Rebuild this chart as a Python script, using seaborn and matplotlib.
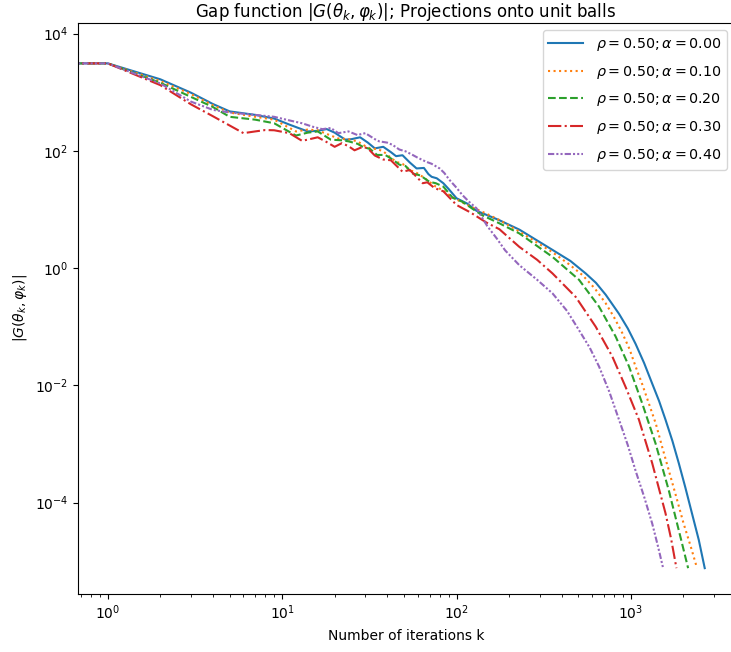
import matplotlib
matplotlib.use("Agg")
import matplotlib.pyplot as plt
import numpy as np
import pandas as pd
import seaborn as sns

# iterations k and gap values |G(theta_k, phi_k)|
k_a0 = [0, 1, 2, 3, 4, 5, 7, 9, 11, 14, 16, 18, 20, 23, 25, 28, 31, 34, 38, 42, 45, 49, 54, 59,
        65, 69, 72, 77, 84, 90, 100, 115, 130, 175, 230, 355, 450, 550, 630, 717, 854, 960,
        1063, 1190, 1324, 1450, 1578, 1730, 1881, 2050, 2240, 2450, 2650]
gap_a0 = [3.1e3, 3.1e3, 1.66e3, 9.8e2, 6.3e2, 4.7e2, 4.1e2, 3.55e2, 2.8e2, 2.14e2, 2.19e2, 2.35e2,
          2.04e2, 1.55e2, 1.58e2, 1.7e2, 1.38e2, 1.1e2, 1.17e2, 9.5e1, 8.1e1, 8.4e1, 6.3e1, 5.0e1,
          5.1e1, 4.0e1, 3.6e1, 3.4e1, 2.8e1, 2.24e1, 1.55e1, 1.26e1, 9.5, 6.6, 4.5, 2.04, 1.32,
          8.1e-1, 5.6e-1, 3.5e-1, 1.66e-1, 9.3e-2, 5.1e-2, 2.4e-2, 1.07e-2, 5.4e-3, 2.6e-3, 1.12e-3,
          4.7e-4, 1.82e-4, 6.5e-5, 2.3e-5, 7.6e-6]

k_a1 = [0, 1, 2, 3, 4, 5, 7, 9, 12, 14, 16, 19, 21, 24, 27, 30, 32, 35, 38, 42, 45, 49, 54, 59,
        64, 70, 76, 83, 91, 100, 118, 148, 176, 229, 355, 440, 527, 620, 717, 800, 892, 980,
        1063, 1160, 1267, 1390, 1510, 1650, 1800, 2000, 2200, 2394]
gap_a1 = [3.1e3, 3.1e3, 1.55e3, 9.3e2, 6.0e2, 4.5e2, 3.8e2, 3.4e2, 2.14e2, 2.3e2, 2.24e2, 1.82e2,
          1.62e2, 1.58e2, 1.45e2, 1.2e2, 1.1e2, 1.07e2, 9.8e1, 7.6e1, 6.5e1, 6.0e1, 4.7e1, 4.2e1,
          3.6e1, 2.95e1, 2.45e1, 2.14e1, 1.76e1, 1.48e1, 1.15e1, 8.5, 6.6, 4.2, 1.86, 1.17,
          7.6e-1, 4.5e-1, 2.5e-1, 1.45e-1, 7.8e-2, 4.2e-2, 2.1e-2, 1.05e-2, 4.9e-3, 2.2e-3,
          8.9e-4, 3.5e-4, 1.4e-4, 4.5e-5, 1.8e-5, 7.6e-6]

k_a2 = [0, 1, 2, 3, 4, 5, 7, 9, 12, 14, 16, 19, 22, 24, 27, 29, 32, 35, 39, 43, 47, 51, 56, 62,
        70, 76, 84, 95, 108, 125, 141, 176, 229, 355, 504, 656, 817, 975, 1161, 1384, 1648,
        1922, 2128]
gap_a2 = [3.1e3, 3.1e3, 1.45e3, 8.3e2, 5.6e2, 3.8e2, 3.4e2, 2.95e2, 1.82e2, 2.04e2, 2.14e2,
          1.55e2, 1.51e2, 1.45e2, 1.32e2, 1.17e2, 1.07e2, 8.5e1, 8.5e1, 7.1e1, 5.8e1, 5.5e1,
          4.1e1, 3.8e1, 2.95e1, 2.8e1, 2.45e1, 1.58e1, 1.35e1, 1.0e1, 7.9, 5.8, 3.9, 1.55,
          6.3e-1, 2.2e-1, 6.8e-2, 2.1e-2, 4.9e-3, 1.02e-3, 1.62e-4, 2.6e-5, 7.6e-6]

k_a3 = [0, 1, 2, 3, 4, 5, 6, 7, 8, 9, 11, 13, 14, 16, 18, 20, 22, 24, 26, 29, 31, 34, 38, 42,
        49, 54, 64, 68, 75, 84, 100, 120, 148, 176, 229, 290, 355, 483, 628, 782, 933, 1111,
        1324, 1578, 1700, 1824]
gap_a3 = [3.1e3, 3.1e3, 1.32e3, 6.2e2, 3.9e2, 2.7e2, 2.0e2, 2.14e2, 2.26e2, 2.24e2, 2.0e2,
          1.48e2, 1.55e2, 1.7e2, 1.41e2, 1.17e2, 1.35e2, 1.2e2, 1.02e2, 1.17e2, 1.1e2, 8.3e1,
          7.1e1, 6.9e1, 4.4e1, 4.7e1, 2.8e1, 2.9e1, 2.3e1, 2.04e1, 1.19e1, 8.9, 6.0, 4.6, 2.3,
          1.38, 8.1e-1, 3.2e-1, 1.0e-1, 3.1e-2, 9.3e-3, 2.6e-3, 4.7e-4, 6.6e-5, 2.4e-5, 7.6e-6]

k_a4 = [0, 1, 2, 3, 4, 5, 7, 9, 11, 13, 15, 17, 19, 21, 24, 27, 30, 34, 36, 40, 43, 47, 51, 56,
        60, 67, 72, 80, 85, 91, 100, 108, 118, 130, 150, 170, 190, 229, 290, 355, 430, 504,
        580, 656, 750, 854, 960, 1063, 1190, 1324, 1430, 1530]
gap_a4 = [3.1e3, 3.1e3, 1.41e3, 6.9e2, 5.0e2, 4.5e2, 4.1e2, 3.8e2, 3.3e2, 2.95e2, 2.57e2,
          2.34e2, 2.45e2, 2.0e2, 2.14e2, 1.86e2, 2.0e2, 1.58e2, 1.45e2, 1.38e2, 1.26e2, 1.05e2,
          9.8e1, 8.5e1, 7.6e1, 6.5e1, 6.0e1, 5.0e1, 4.2e1, 3.2e1, 2.34e1, 1.76e1, 1.35e1,
          1.05e1, 5.2, 3.2, 2.0, 1.12, 6.3e-1, 3.7e-1, 1.86e-1, 8.7e-2, 4.4e-2, 2.1e-2, 7.9e-3,
          2.6e-3, 9.5e-4, 3.5e-4, 1.26e-4, 4.4e-5, 1.78e-5, 7.6e-6]

alphas = [0.00, 0.10, 0.20, 0.30, 0.40]
rho = 0.50
ks = [k_a0, k_a1, k_a2, k_a3, k_a4]
gaps = [gap_a0, gap_a1, gap_a2, gap_a3, gap_a4]

labels = [rf"$\rho = {rho:.2f}; \alpha = {a:.2f}$" for a in alphas]
frames = []
for lab, k, g in zip(labels, ks, gaps):
    frames.append(pd.DataFrame({"k": k, "gap": g, "run": lab}))
df = pd.concat(frames, ignore_index=True)

dash_map = dict(zip(labels, ["", (1, 1.65), (3.7, 1.6), (6.4, 1.6, 1, 1.6), (3, 1, 1, 1, 1, 1)]))
palette = dict(zip(labels, sns.color_palette("tab10", 5)))

fig = plt.figure(figsize=(7.31, 6.52), dpi=100)
ax = fig.add_axes([78 / 731, 1 - 594 / 652, (734 - 78) / 731, (594 - 23) / 652])

sns.lineplot(data=df, x="k", y="gap", hue="run", style="run", dashes=dash_map,
             palette=palette, estimator=None, sort=False, linewidth=1.5, ax=ax)

ax.set_xscale("log")
ax.set_yscale("log")
ax.set_xlim(0.675, 3900)
ax.set_ylim(10 ** -5.56, 10 ** 4.18)

ax.set_title(r"Gap function $|G(\theta_k, \varphi_k)|$; Projections onto unit balls",
             fontsize=12, pad=4)
ax.set_xlabel("Number of iterations k", labelpad=5)
ax.set_ylabel(r"$|G(\theta_k, \varphi_k)|$")
ax.legend(loc="upper right", title=None, fontsize=10.3, handlelength=2.4,
          handletextpad=0.9, labelspacing=0.75)

fig.savefig("out.png", dpi=100)
